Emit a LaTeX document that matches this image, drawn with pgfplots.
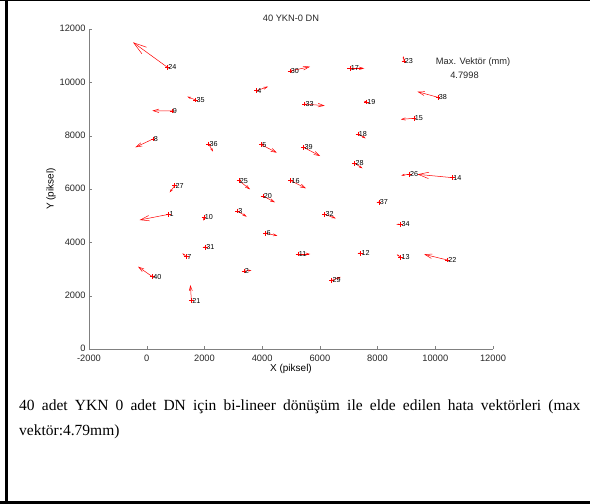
\documentclass[border=0pt]{standalone}
\usepackage{pgfplots}
\pgfplotsset{compat=1.18}
\usepackage{pgfplotstable}
\usepackage{fontspec}
\setmainfont{Liberation Sans}
\newfontfamily\captionfont{Liberation Serif}
\usetikzlibrary{arrows.meta}

% error vectors: base point (x, y), displacement (u, v), point number n
\pgfplotstableread{
x     y      u      v     n
763   5050   -1006  -213  1
3373  2925   256    25    2
3143  5175   323    -213  3
3802  9686   402    151   4
3975  7662   531    -300  5
4124  4337   406    -87   6
1375  3462   -138   125   7
219   7875   -611   -311  8
877   8925   -680   10    9
1987  4937   -20    -125  10
5245  3562   415    0     11
7417  3587   -110   0     12
8804  3437   -139   113   13
10596 6425   -1213  125   14
9265  8650   -461   -38   15
4991  6312   530    -287  16
7040  10525  500    0     17
7325  8062   265    -162  18
7614  9262   -90    40    19
4032  5737   415    -237  20
1548  1812   -35    588   21
10422 3337   -811   213   22
8918  10800  -34    187   23
717   10564  -1191  936   24
3199  6312   381    -325  25
9100  6550   -280   -38   26
970   6125   -173   -250  27
7209  6962   267    -187  28
6412  2575   312    125   29
4967  10425  693    162   30
2034  3812   -100   0     31
6169  5050   382    -150  32
5476  9187   693    -62   33
8804  4675   -150   0     34
1698  9337   -288   125   35
2149  7688   149    -288  36
8049  5500   -80    0     37
10097 9437   -714   213   38
5442  7562   565    -325  39
197   2712   -497   375   40
}\vectors

\begin{document}
\begin{tikzpicture}[x=1pt,y=1pt]
\path[use as bounding box] (0,0) rectangle (590,504);
% frame
\draw[line width=3pt] (6.5,0) -- (6.5,504);
\draw[line width=1.4pt] (0,503.3) -- (590,503.3);
\draw[line width=3pt] (0,1.5) -- (590,1.5);

\begin{axis}[
  at={(89pt,155pt)}, anchor=south west,
  scale only axis, width=404pt, height=320pt,
  xmin=-2000, xmax=12000, ymin=0, ymax=12000,
  axis lines=left,
  axis line style={-, gray},
  xtick={-2000,0,...,12000},
  ytick={0,2000,...,12000},
  tick align=inside,
  major tick length=3pt,
  tick style={gray},
  scaled ticks=false,
  /pgf/number format/1000 sep={},
  /pgf/number format/assume math mode=true,
  tick label style={font=\fontsize{9.3}{10}\selectfont, text=black!85},
  xticklabel style={yshift=-2pt},
  yticklabel style={yshift=0.5pt},
  xlabel={X (piksel)},
  ylabel={Y (piksel)},
  label style={font=\fontsize{9.3}{10}\selectfont, text=black!85},
  every axis x label/.style={at={(axis description cs:0.5,0)}, anchor=center, yshift=-19.5pt},
  every axis y label/.style={at={(axis description cs:-0.094,0.5)}, anchor=center, rotate=90},
  title={40 YKN-0 DN},
  every axis title/.style={at={(axis description cs:0.5,1)}, anchor=center, yshift=10.5pt,
    font=\fontsize{9.3}{10}\selectfont, text=black!85},
  clip=false,
]
% error vectors
\addplot[red, line width=0.5pt,
  point meta={sqrt((\thisrow{u})^2+(\thisrow{v})^2)},
  point meta min=0, point meta max=1520,
  quiver={u=\thisrow{u}, v=\thisrow{v},
    every arrow/.append style={
      -{Straight Barb[length=13pt, width=8pt, scale={max(0.1,\pgfplotspointmetatransformed/1000)}]}}},
] table {\vectors};

% measured points with their numbers
\addplot[only marks, mark=+, mark size=2.4pt, red, line width=0.6pt,
  nodes near coords, point meta=explicit symbolic,
  every node near coord/.append style={anchor=west, inner sep=0.6pt,
    font=\fontsize{7.2}{8}\selectfont, text=black},
] table[meta=n] {\vectors};

\node[anchor=west, inner sep=0, font=\fontsize{9.3}{10}\selectfont, text=black!85]
  at (axis cs:10017,10762) {Max. Vektör (mm)};
\node[anchor=west, inner sep=0, font=\fontsize{9.3}{10}\selectfont, text=black!85]
  at (axis cs:10512,10275) {4.7998};
\end{axis}

\node[anchor=base west, inner sep=0, text width=561pt, align=justify,
  font=\captionfont\fontsize{15.5}{25}\selectfont]
  at (19,93) {40 adet YKN 0 adet DN için bi-lineer dönüşüm ile elde edilen hata vektörleri (max\linebreak vektör:4.79mm)};
\end{tikzpicture}
\end{document}
